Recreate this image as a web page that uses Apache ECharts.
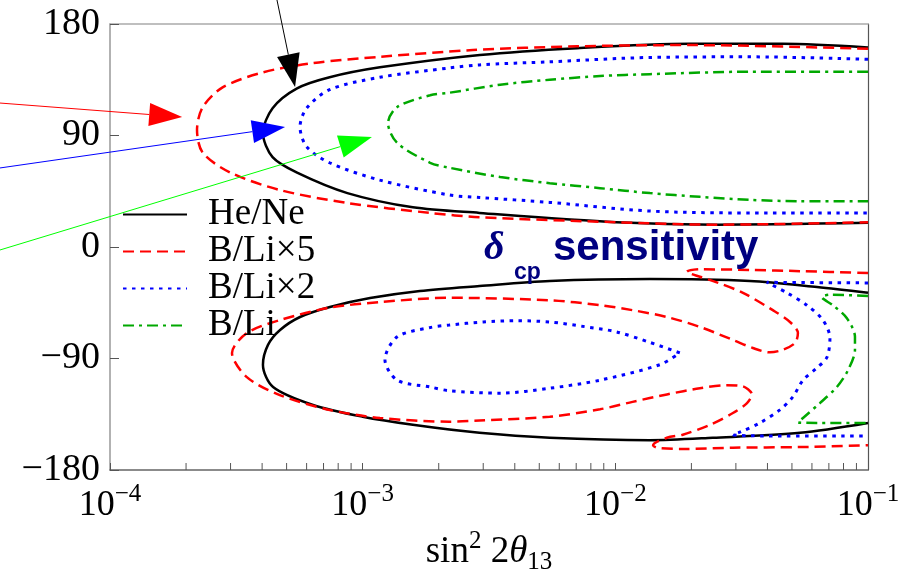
<!DOCTYPE html>
<html><head><meta charset="utf-8">
<script src="https://cdn.jsdelivr.net/npm/echarts@6/dist/echarts.min.js"></script>
<style>html,body{margin:0;padding:0;background:#fff}#c{width:906px;height:571px}</style>
</head><body><div id="c"></div>
<script>
// ---- data (x = sin^2 2theta13, y = delta_cp in degrees) ----
const seriesNames = ['He/Ne', 'B/Li×5', 'B/Li×2', 'B/Li'];
const yTicks = [-180, -90, 0, 90, 180];
const xTicks = [1e-4, 1e-3, 1e-2, 1e-1];
const minorTicks = [2e-4,3e-4,4e-4,5e-4,6e-4,7e-4,8e-4,9e-4,2e-3,3e-3,4e-3,5e-3,6e-3,7e-3,8e-3,9e-3,2e-2,3e-2,4e-2,5e-2,6e-2,7e-2,8e-2,9e-2];

const heNeUpper = [[0.1,161],[0.046,164],[0.0197,164],[0.00705,160.5],[0.00291,155],[0.00117,145],[7.4e-4,137],[5.5e-4,128],[4.4e-4,112],[4.03e-4,92],[4.4e-4,72.5],[5.5e-4,60],[8.7e-4,43.5],[1.58e-3,32],[2.9e-3,27.5],[0.0101,20],[0.025,18],[0.1,19.5]];
const heNeLower = [[0.1,-37],[0.0628,-32.3],[0.0341,-27.4],[0.0137,-25.8],[5.5e-3,-27.4],[2.9e-3,-31.5],[1.685e-3,-35.5],[1.07e-3,-41.2],[7.42e-4,-48.4],[5.65e-4,-56.5],[4.71e-4,-67],[4.22e-4,-79],[4.03e-4,-95],[4.42e-4,-113],[6.36e-4,-127.5],[1.0e-3,-137],[1.58e-3,-143.5],[2.9e-3,-150],[5.5e-3,-154],[0.0137,-156],[0.0243,-154],[0.0538,-150],[0.1,-142]];
const bli5Upper = [[0.1,160],[0.0197,163],[0.00705,162],[2.73e-3,159],[1.17e-3,153.5],[6.36e-4,148.5],[4.03e-4,141],[2.8e-4,129],[2.33e-4,113],[2.21e-4,94.5],[2.33e-4,76],[3e-4,60],[4.7e-4,46],[8.7e-4,35.5],[1.85e-3,27.5],[2.9e-3,24],[0.0101,20],[0.025,18],[0.1,20]];
const bli5Lower = [[0.1,-21],[0.0538,-19.5],[0.0341,-18.5],[0.0216,-18],[0.0192,-20],[0.0216,-24],[0.0252,-28.5],[0.032,-37],[0.042,-51],[0.0491,-60.5],[0.0528,-69.5],[0.0514,-77.5],[0.046,-83],[0.0409,-85],[0.035,-81.5],[0.0292,-75],[0.0216,-64.5],[0.016,-56.5],[0.0117,-51],[8.7e-3,-47],[5.5e-3,-43],[2.2e-3,-41],[1.17e-3,-44.5],[7.4e-4,-49],[4.7e-4,-59],[3.48e-4,-69.5],[3.04e-4,-85.5],[3.48e-4,-105],[4.7e-4,-119.5],[7.4e-4,-131.5],[1.17e-3,-138],[2.2e-3,-141],[2.9e-3,-140],[5.5e-3,-137],[8.7e-3,-131],[0.0117,-125],[0.016,-119],[0.0216,-114],[0.0276,-111.5],[0.032,-112.5],[0.0347,-119],[0.0332,-126],[0.0292,-134],[0.0237,-143.5],[0.0185,-151.5],[0.016,-154],[0.0141,-160],[0.0146,-162],[0.0185,-163],[0.0292,-162],[0.0538,-161.5],[0.1,-160]];
const bli2Upper = [[0.1,151.5],[0.0341,153.5],[0.0137,153],[5.5e-3,149.5],[2.9e-3,147],[2.2e-3,144.5],[1.17e-3,137],[7.4e-4,127],[6.0e-4,112],[5.65e-4,97],[6.0e-4,81],[7.4e-4,68],[1.17e-3,54],[2.2e-3,42],[2.9e-3,40],[5.5e-3,36],[0.0137,29],[0.0341,27.5],[0.1,27.5]];
const bli2LowerInner = [[0.018,-85.5],[0.0137,-77],[0.0101,-68.5],[7.4e-3,-64],[5.5e-3,-60.5],[4.1e-3,-59.5],[3.0e-3,-60.5],[2.2e-3,-63],[1.85e-3,-65],[1.37e-3,-72.5],[1.225e-3,-91],[1.37e-3,-107.5],[1.85e-3,-113],[2.2e-3,-116],[3.5e-3,-118],[5.5e-3,-114],[8.7e-3,-107.5],[0.015,-95],[0.018,-85.5]];
const bli2LowerOuter = [[0.1,-29],[0.0398,-28.5],[0.0478,-37],[0.0573,-47],[0.0663,-59],[0.0707,-73.5],[0.0688,-89],[0.0628,-97.5],[0.0553,-107.5],[0.0504,-121],[0.0448,-131.5],[0.0373,-142],[0.0311,-149.5],[0.0292,-151.5],[0.0398,-152.5],[0.1,-152.5]];
const bliUpper = [[0.1,141.5],[0.0341,141.5],[0.0137,139.5],[8.7e-3,138],[5.5e-3,135],[3.5e-3,131],[2.2e-3,124.5],[1.85e-3,122.5],[1.37e-3,113],[1.26e-3,100],[1.37e-3,84],[1.85e-3,68],[2.2e-3,64],[3.5e-3,56.5],[5.5e-3,51.5],[8.7e-3,47.5],[0.0137,43.5],[0.0216,40.5],[0.0341,38],[0.0538,37],[0.1,37]];
const bliLower = [[0.1,-39.5],[0.0707,-38.5],[0.0657,-40.5],[0.0726,-47],[0.0825,-57.5],[0.0888,-72.5],[0.0888,-83],[0.0833,-99.5],[0.0753,-113],[0.0645,-126],[0.0553,-138],[0.0528,-141.5],[0.0628,-142],[0.1,-142]];

// annotation arrows (data coordinates: start -> tip)
const arrowColors = ['#000000', '#ff0000', '#0000ff', '#00ff00'];
const arrowFrom = [[4.58e-4,199.4],[3.67e-5,116.2],[3.67e-5,63.8],[3.67e-5,-2.4]];
const arrowTo = [[5.40e-4,129.2],[1.93e-4,104.9],[4.93e-4,96.9],[1.088e-3,88.8]];

// ---- styles ----
const styleOf = {
  'He/Ne':  {color:'#000000', type:'solid', width:2.5},
  'B/Li×5': {color:'#ff0000', type:[11,6], width:2.5},
  'B/Li×2': {color:'#0000ff', type:[3.5,5.5], width:3},
  'B/Li':   {color:'#00a800', type:[11,5,3,5], width:2.5}
};
const curves = [
  ['He/Ne', heNeUpper], ['He/Ne', heNeLower],
  ['B/Li×5', bli5Upper], ['B/Li×5', bli5Lower],
  ['B/Li×2', bli2Upper], ['B/Li×2', bli2LowerInner], ['B/Li×2', bli2LowerOuter],
  ['B/Li', bliUpper], ['B/Li', bliLower]
];
const SERIF = '"Liberation Serif", "DejaVu Serif", serif';
const SANS = '"Liberation Sans", Arial, sans-serif';

const chart = echarts.init(document.getElementById('c'), null, {renderer:'canvas'});
const minus = s => String(s).replace('-', '\u2212');

const series = curves.map(([name, data]) => {
  const s = styleOf[name];
  return {
    type:'line', name, data, smooth:0.3, symbol:'none', showSymbol:false,
    lineStyle:{color:s.color, type:s.type, width:s.width}, itemStyle:{color:s.color},
    emphasis:{disabled:true}, animation:false, z:3
  };
});
series.push({
  type:'custom', silent:true, animation:false, clip:false, z:4,
  data: minorTicks.map(v => [v, -180]),
  renderItem: (params, api) => {
    const p = api.coord([api.value(0), api.value(1)]);
    return {type:'line', shape:{x1:p[0], y1:p[1], x2:p[0], y2:p[1]-7}, style:{stroke:'#555', lineWidth:1}};
  }
});

chart.setOption({
  animation:false,
  grid:{left:110, right:38, top:24, bottom:101, outerBoundsMode:'none', containLabel:false},
  legend:{
    data:seriesNames, orient:'vertical', left:122, top:196, itemWidth:64, itemHeight:20, itemGap:0,
    padding:0, selectedMode:false, itemStyle:{opacity:0},
    textStyle:{fontFamily:SERIF, fontSize:37, color:'#000', lineHeight:30.5, padding:[0,0,0,16]}
  },
  xAxis:[{
    type:'log', logBase:10, min:1e-4, max:1e-1, position:'bottom',
    axisLine:{show:true, onZero:false, lineStyle:{color:'#666', width:1.5}},
    axisTick:{show:true, inside:true, length:7, lineStyle:{color:'#555'}},
    splitLine:{show:false},
    axisLabel:{margin:12, formatter:v => '{b|10}{s|' + minus(Math.round(Math.log10(v))) + '}',
      rich:{b:{fontFamily:SERIF, fontSize:36, color:'#000', lineHeight:42, verticalAlign:'bottom'},
            s:{fontFamily:SERIF, fontSize:25, color:'#000', lineHeight:25, verticalAlign:'top'}}},
    name:'{a|sin}{p|2}{a| 2}{t|θ}{q|13}', nameLocation:'middle', nameGap:52,
    nameTextStyle:{rich:{
      a:{fontFamily:SERIF, fontSize:37, color:'#000', lineHeight:46, verticalAlign:'middle'},
      t:{fontFamily:SERIF, fontSize:37, fontStyle:'italic', color:'#000', lineHeight:46, verticalAlign:'middle'},
      p:{fontFamily:SERIF, fontSize:25, color:'#000', lineHeight:46, verticalAlign:'top'},
      q:{fontFamily:SERIF, fontSize:25, color:'#000', lineHeight:46, verticalAlign:'bottom'}}}
  },{
    type:'log', logBase:10, min:1e-4, max:1e-1, position:'top',
    axisLine:{show:true, onZero:false, lineStyle:{color:'#aaa', width:1.5}},
    axisTick:{show:false}, axisLabel:{show:false}, splitLine:{show:false}
  }],
  yAxis:[{
    type:'value', min:-180, max:180, interval:90, position:'left',
    axisLine:{show:true, onZero:false, lineStyle:{color:'#999', width:1.5}},
    axisTick:{show:true, inside:true, length:9, lineStyle:{color:'#555'}},
    splitLine:{show:false},
    axisLabel:{margin:10, fontFamily:SERIF, fontSize:38, color:'#000', formatter:v => minus(v)}
  },{
    type:'value', min:-180, max:180, interval:90, position:'right',
    axisLine:{show:true, onZero:false, lineStyle:{color:'#555', width:1.2}},
    axisTick:{show:false}, axisLabel:{show:false}, splitLine:{show:false}
  }],
  series
});

// arrows + title text
const graphics = [];
for (let i = 0; i < arrowFrom.length; i++) {
  const a = chart.convertToPixel({gridIndex:0}, arrowFrom[i]);
  const b = chart.convertToPixel({gridIndex:0}, arrowTo[i]);
  const dx = b[0]-a[0], dy = b[1]-a[1], L = Math.hypot(dx, dy);
  const ux = dx/L, uy = dy/L, nx = -uy, ny = ux;
  const hl = 33, hw = 11.5;
  const bx = b[0]-ux*hl, by = b[1]-uy*hl;
  graphics.push({type:'line', z:10, silent:true, shape:{x1:a[0], y1:a[1], x2:bx, y2:by}, style:{stroke:arrowColors[i], lineWidth:1}});
  graphics.push({type:'polygon', z:10, silent:true, shape:{points:[[b[0],b[1]],[bx+nx*hw,by+ny*hw],[bx-nx*hw,by-ny*hw]]}, style:{fill:arrowColors[i]}});
}
graphics.push({type:'text', z:10, silent:true, left:484, top:229, style:{text:'δ', font:'italic bold 40px ' + SERIF, fill:'#000080'}});
graphics.push({type:'text', z:10, silent:true, left:514, top:261, style:{text:'cp', font:'bold 23px ' + SANS, fill:'#000080'}});
graphics.push({type:'text', z:10, silent:true, left:553, top:227, style:{text:'sensitivity', font:'bold 42px ' + SANS, fill:'#000080'}});
chart.setOption({graphic:graphics});
</script></body></html>
